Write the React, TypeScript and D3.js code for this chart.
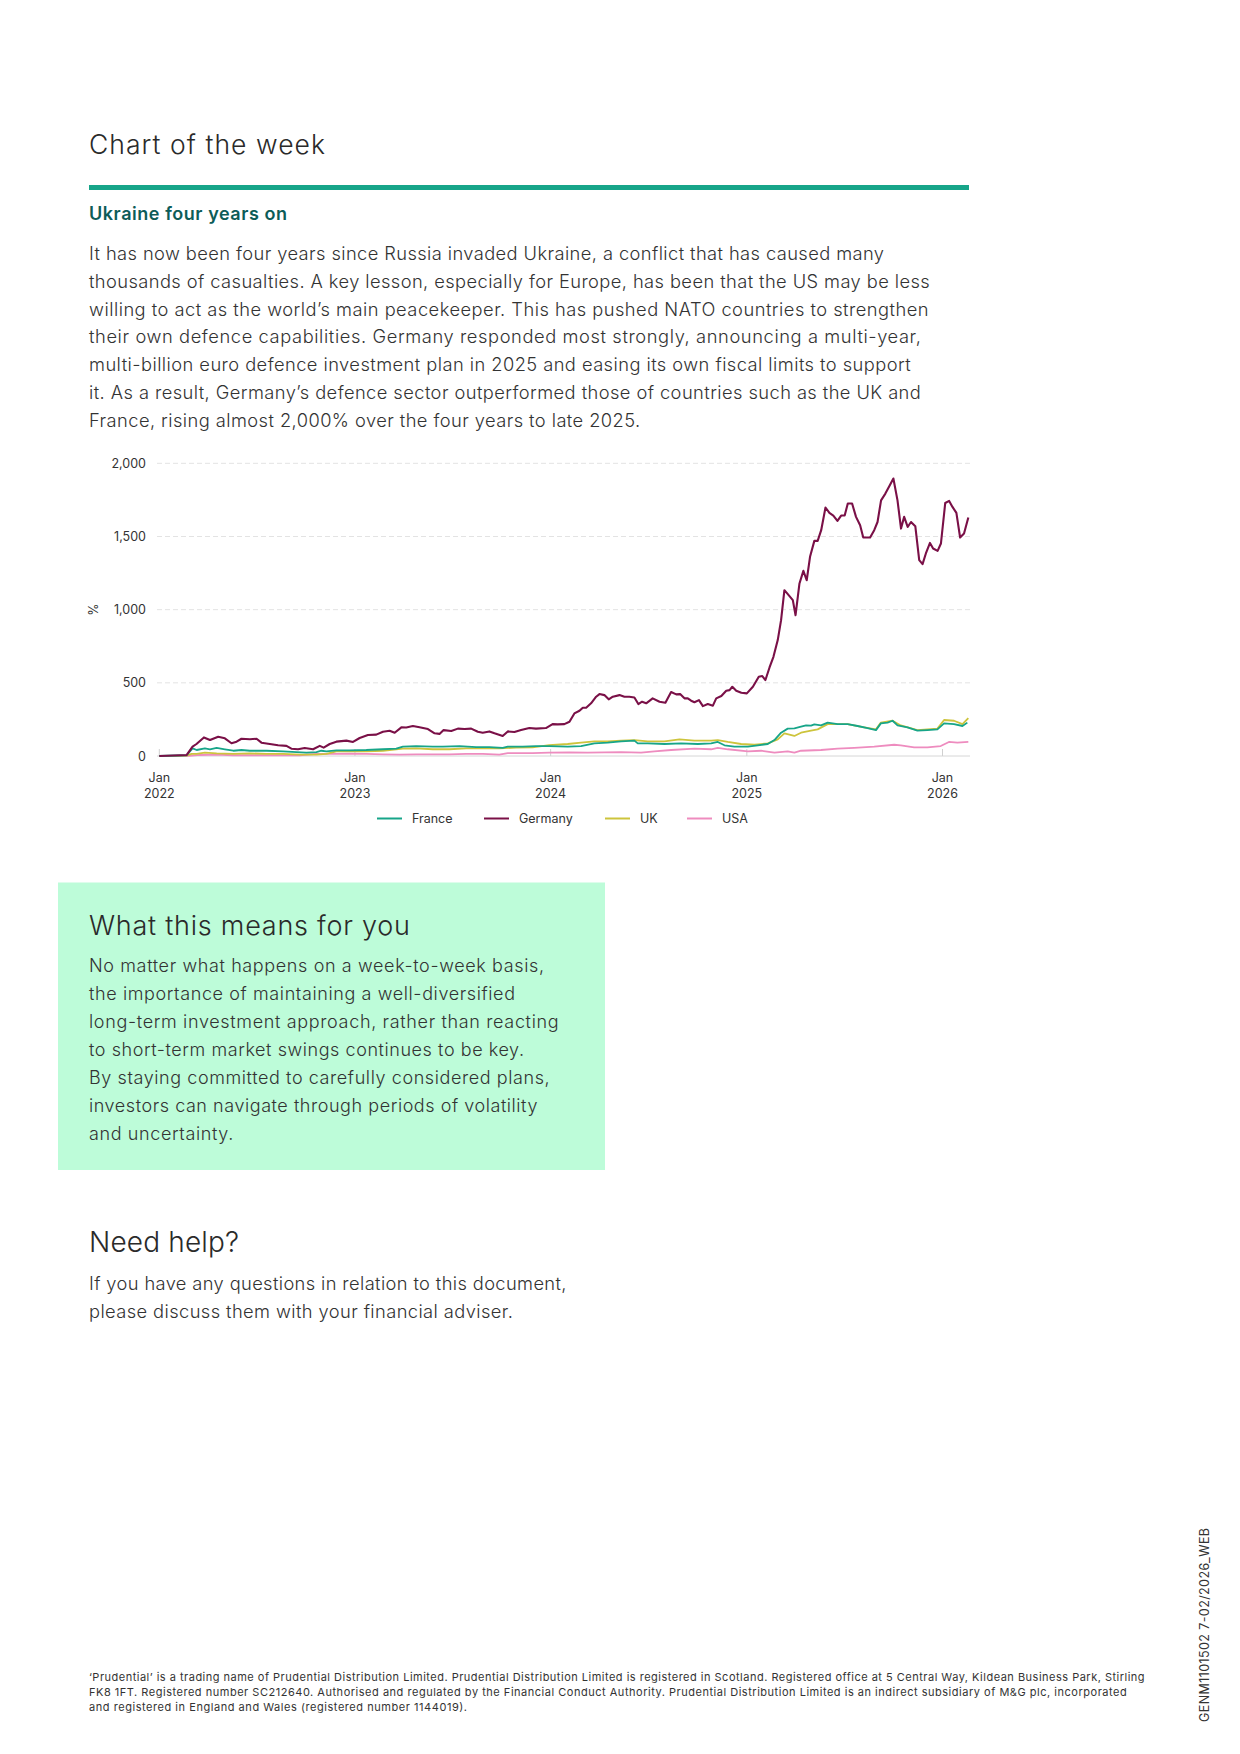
import React from "react";
import * as d3 from "d3";

// ---------- DATA (decimal year, % change) ----------
const germany: [number, number][] = [
  [2022.0, 0], [2022.14, 7], [2022.17, 64], [2022.19, 82], [2022.228, 127], [2022.259, 109], [2022.301, 132],
  [2022.335, 121], [2022.369, 87], [2022.395, 98], [2022.42, 118], [2022.463, 114], [2022.497, 118], [2022.522, 91],
  [2022.565, 82], [2022.607, 73], [2022.65, 69], [2022.675, 50], [2022.709, 46], [2022.743, 55], [2022.786, 46],
  [2022.82, 69], [2022.84, 57], [2022.871, 82], [2022.905, 98], [2022.956, 105], [2022.99, 96], [2023.024, 123],
  [2023.066, 143], [2023.109, 146], [2023.143, 166], [2023.177, 173], [2023.203, 159], [2023.237, 196], [2023.262, 195],
  [2023.296, 205], [2023.33, 196], [2023.373, 184], [2023.407, 155], [2023.432, 151], [2023.453, 177], [2023.492, 171],
  [2023.526, 187], [2023.56, 184], [2023.594, 187], [2023.628, 166], [2023.653, 159], [2023.687, 168], [2023.713, 155],
  [2023.755, 137], [2023.781, 168], [2023.815, 164], [2023.849, 177], [2023.891, 191], [2023.925, 187], [2023.976, 191],
  [2024.01, 218], [2024.036, 216], [2024.07, 218], [2024.096, 234], [2024.121, 291], [2024.147, 309], [2024.164, 330],
  [2024.181, 330], [2024.206, 360], [2024.232, 405], [2024.249, 423], [2024.274, 416], [2024.296, 387], [2024.317, 405],
  [2024.351, 416], [2024.376, 405], [2024.401, 405], [2024.427, 400], [2024.447, 355], [2024.466, 371], [2024.487, 360],
  [2024.52, 394], [2024.555, 371], [2024.585, 364], [2024.614, 437], [2024.64, 421], [2024.66, 423], [2024.682, 394],
  [2024.699, 394], [2024.716, 378], [2024.733, 367], [2024.756, 382], [2024.776, 341], [2024.801, 355], [2024.827, 344],
  [2024.844, 394], [2024.87, 410], [2024.895, 446], [2024.912, 450], [2024.926, 473], [2024.946, 446], [2024.972, 432],
  [2025.0, 428], [2025.031, 473], [2025.061, 541], [2025.079, 546], [2025.095, 519], [2025.116, 605], [2025.136, 678],
  [2025.158, 792], [2025.175, 928], [2025.192, 1133], [2025.218, 1092], [2025.235, 1065], [2025.249, 962], [2025.269, 1179],
  [2025.289, 1265], [2025.306, 1201], [2025.323, 1361], [2025.345, 1470], [2025.362, 1470], [2025.38, 1543], [2025.402, 1698],
  [2025.422, 1661], [2025.442, 1643], [2025.463, 1606], [2025.482, 1643], [2025.5, 1643], [2025.516, 1725], [2025.538, 1725],
  [2025.558, 1634], [2025.579, 1577], [2025.595, 1493], [2025.63, 1493], [2025.651, 1543], [2025.668, 1599], [2025.686, 1747],
  [2025.708, 1793], [2025.728, 1843], [2025.749, 1896], [2025.77, 1747], [2025.788, 1554], [2025.804, 1634], [2025.822, 1565],
  [2025.839, 1599], [2025.861, 1570], [2025.881, 1338], [2025.898, 1311], [2025.915, 1384], [2025.936, 1456], [2025.952, 1418],
  [2025.975, 1402], [2025.992, 1452], [2026.014, 1729], [2026.034, 1743], [2026.051, 1702], [2026.071, 1661], [2026.09, 1493],
  [2026.11, 1520], [2026.132, 1629],
];

const france: [number, number][] = [
  [2022.0, 0], [2022.14, 5], [2022.17, 52], [2022.191, 41], [2022.233, 52], [2022.259, 46], [2022.293, 55], [2022.335, 46],
  [2022.378, 36], [2022.42, 41], [2022.463, 36], [2022.548, 36], [2022.633, 32], [2022.701, 27], [2022.752, 23], [2022.803, 27],
  [2022.828, 36], [2022.854, 32], [2022.905, 39], [2022.973, 39], [2023.058, 41], [2023.143, 46], [2023.211, 50], [2023.245, 64],
  [2023.313, 68], [2023.398, 64], [2023.449, 64], [2023.534, 68], [2023.619, 61], [2023.687, 61], [2023.755, 55], [2023.781, 64],
  [2023.857, 64], [2023.925, 68], [2023.993, 68], [2024.087, 64], [2024.155, 68], [2024.223, 86], [2024.291, 91], [2024.359, 100],
  [2024.427, 105], [2024.444, 86], [2024.495, 86], [2024.58, 82], [2024.665, 86], [2024.75, 82], [2024.818, 86], [2024.852, 96],
  [2024.886, 73], [2024.937, 64], [2025.005, 64], [2025.056, 73], [2025.107, 82], [2025.141, 109], [2025.175, 159], [2025.209, 187],
  [2025.243, 189], [2025.277, 200], [2025.303, 209], [2025.328, 207], [2025.345, 216], [2025.379, 209], [2025.413, 228], [2025.464, 218],
  [2025.515, 218], [2025.566, 205], [2025.617, 191], [2025.66, 177], [2025.685, 223], [2025.719, 228], [2025.745, 241], [2025.77, 209],
  [2025.821, 196], [2025.872, 173], [2025.923, 177], [2025.974, 182], [2026.008, 223], [2026.059, 218], [2026.102, 205], [2026.127, 228],
];

const uk: [number, number][] = [
  [2022.0, 0], [2022.14, 2], [2022.165, 14], [2022.191, 14], [2022.233, 23], [2022.293, 18], [2022.378, 14], [2022.463, 18],
  [2022.548, 14], [2022.633, 14], [2022.718, 9], [2022.803, 9], [2022.854, 14], [2022.905, 32], [2022.973, 32], [2023.058, 32],
  [2023.143, 36], [2023.245, 50], [2023.313, 52], [2023.398, 46], [2023.483, 46], [2023.568, 52], [2023.653, 52], [2023.738, 52],
  [2023.823, 57], [2023.908, 59], [2023.993, 75], [2024.087, 82], [2024.155, 91], [2024.223, 100], [2024.291, 100], [2024.359, 105],
  [2024.427, 109], [2024.495, 100], [2024.58, 100], [2024.657, 114], [2024.733, 105], [2024.818, 105], [2024.852, 109], [2024.903, 96],
  [2024.971, 82], [2025.039, 77], [2025.107, 86], [2025.158, 114], [2025.192, 155], [2025.243, 137], [2025.277, 159], [2025.328, 173],
  [2025.362, 182], [2025.413, 218], [2025.515, 218], [2025.6, 196], [2025.66, 182], [2025.685, 228], [2025.745, 241], [2025.787, 209],
  [2025.872, 177], [2025.974, 187], [2026.008, 246], [2026.059, 241], [2026.102, 218], [2026.132, 259],
];

const usa: [number, number][] = [
  [2022.0, 0], [2022.14, 0], [2022.208, 7], [2022.293, 9], [2022.378, 5], [2022.463, 5], [2022.548, 5], [2022.633, 5],
  [2022.718, 5], [2022.803, 14], [2022.888, 14], [2022.973, 16], [2023.058, 14], [2023.143, 11], [2023.228, 9], [2023.313, 11],
  [2023.398, 11], [2023.483, 11], [2023.568, 14], [2023.653, 14], [2023.738, 9], [2023.781, 20], [2023.823, 20], [2023.908, 20],
  [2023.993, 23], [2024.095, 25], [2024.189, 23], [2024.359, 27], [2024.461, 23], [2024.529, 32], [2024.614, 41], [2024.733, 50],
  [2024.818, 46], [2024.852, 55], [2024.903, 46], [2025.005, 32], [2025.073, 36], [2025.141, 23], [2025.209, 32], [2025.243, 23],
  [2025.277, 36], [2025.379, 41], [2025.464, 50], [2025.549, 55], [2025.651, 64], [2025.753, 77], [2025.787, 73], [2025.855, 59],
  [2025.923, 59], [2025.991, 68], [2026.033, 96], [2026.076, 91], [2026.132, 96],
];

const yTicks = [0, 500, 1000, 1500, 2000];
const xTickYears = [2022, 2023, 2024, 2025, 2026];
const legendNames = ["France", "Germany", "UK", "USA"];

const paragraph = [
  "It has now been four years since Russia invaded Ukraine, a conflict that has caused many",
  "thousands of casualties. A key lesson, especially for Europe, has been that the US may be less",
  "willing to act as the world\u2019s main peacekeeper. This has pushed NATO countries to strengthen",
  "their own defence capabilities. Germany responded most strongly, announcing a multi-year,",
  "multi-billion euro defence investment plan in 2025 and easing its own fiscal limits to support",
  "it. As a result, Germany\u2019s defence sector outperformed those of countries such as the UK and",
  "France, rising almost 2,000% over the four years to late 2025.",
];
const boxLines = [
  "No matter what happens on a week-to-week basis,",
  "the importance of maintaining a well-diversified",
  "long-term investment approach, rather than reacting",
  "to short-term market swings continues to be key.",
  "By staying committed to carefully considered plans,",
  "investors can navigate through periods of volatility",
  "and uncertainty.",
];
const helpLines = [
  "If you have any questions in relation to this document,",
  "please discuss them with your financial adviser.",
];
const footerLines = [
  "\u2018Prudential\u2019 is a trading name of Prudential Distribution Limited. Prudential Distribution Limited is registered in Scotland. Registered office at 5 Central Way, Kildean Business Park, Stirling",
  "FK8 1FT. Registered number SC212640. Authorised and regulated by the Financial Conduct Authority. Prudential Distribution Limited is an indirect subsidiary of M&G plc, incorporated",
  "and registered in England and Wales (registered number 1144019).",
];

// ---------- LAYOUT (line widths measured from the page) ----------
const paragraphWidths = [795, 840.7, 839.6, 831.8, 821.7, 831.8, 551.2];
const boxWidths = [455, 426, 469.6, 435, 460.6, 448.4, 144.3];
const helpWidths = [477.5, 423.8];
const footerWidths = [1055.6, 1037.7, 378];

// ---------- STYLE ----------
const FONT = "Inter, 'Noto Sans', sans-serif";
const colors: Record<string, string> = {
  France: "#17a589",
  Germany: "#7a1047",
  UK: "#cdc43c",
  USA: "#ee8cbf",
};

function toDate(t: number): Date {
  const y = Math.floor(t);
  const s = new Date(y, 0, 1).getTime();
  const e = new Date(y + 1, 0, 1).getTime();
  return new Date(s + (t - y) * (e - s));
}

export default function App() {
  const x = d3.scaleTime().domain([new Date(2022, 0, 1), new Date(2026, 0, 1)]).range([159.3, 942.5]);
  const y = d3.scaleLinear().domain([0, 2000]).range([756, 463.3]);
  const line = d3
    .line<[number, number]>()
    .x((d) => x(toDate(d[0])))
    .y((d) => y(d[1]))
    .curve(d3.curveLinear);

  const seriesMap: Record<string, [number, number][]> = { France: france, Germany: germany, UK: uk, USA: usa };
  const drawOrder = ["USA", "UK", "France", "Germany"];
  const legendX = [377, 484, 605, 687];

  const textColor = "#333333";

  return (
    <svg
      width={1240}
      height={1754}
      style={{ position: "absolute", left: 0, top: 0, background: "#ffffff" }}
      fontFamily={FONT}
    >
      <rect x={0} y={0} width={1240} height={1754} fill="#ffffff" />

      {/* Title block */}
      <text x={89} y={154} fontSize={26.5} fontWeight={300} fill="#2a2a2a" textLength={236} lengthAdjust="spacing">
        Chart of the week
      </text>
      <rect x={89} y={185} width={880} height={5} fill="#17a589" />
      <text x={89} y={219.5} fontSize={18} fontWeight={600} fill="#0d5c58" textLength={198} lengthAdjust="spacing">
        Ukraine four years on
      </text>
      {paragraph.map((l, i) => (
        <text
          key={i}
          x={89}
          y={260 + i * 27.8}
          fontSize={18.3}
          fontWeight={300}
          fill={textColor}
          textLength={paragraphWidths[i]}
          lengthAdjust="spacing"
        >
          {l}
        </text>
      ))}

      {/* Chart */}
      <g>
        {yTicks.map((t) => (
          <g key={t}>
            {t > 0 && (
              <line x1={157} x2={970} y1={y(t)} y2={y(t)} stroke="#e3e3e3" strokeWidth={1} strokeDasharray="5,3" />
            )}
            <text x={146} y={y(t) + 4.5} fontSize={12.5} textAnchor="end" fill="#333">
              {d3.format(",")(t)}
            </text>
          </g>
        ))}
        <line x1={157} x2={970} y1={y(0)} y2={y(0)} stroke="#d6d6d6" strokeWidth={1} />
        {xTickYears.map((yr) => {
          const px = x(new Date(yr, 0, 1));
          return (
            <g key={yr}>
              <line x1={px} x2={px} y1={y(0) - 7} y2={y(0)} stroke="#d0d0d0" strokeWidth={1} />
              <text x={px} y={782} fontSize={12.5} textAnchor="middle" fill="#333">
                Jan
              </text>
              <text x={px} y={798} fontSize={12.5} textAnchor="middle" fill="#333">
                {yr}
              </text>
            </g>
          );
        })}
        <text
          transform={`translate(98,${y(1000)}) rotate(-90)`}
          fontSize={12.5}
          textAnchor="middle"
          fill="#333"
        >
          %
        </text>
        {drawOrder.map((n) => (
          <path
            key={n}
            d={line(seriesMap[n]) || ""}
            fill="none"
            stroke={colors[n]}
            strokeWidth={n === "Germany" ? 2.1 : 1.8}
            strokeLinejoin="round"
          />
        ))}
        {legendNames.map((n, i) => (
          <g key={n}>
            <line x1={legendX[i]} x2={legendX[i] + 25} y1={818.5} y2={818.5} stroke={colors[n]} strokeWidth={2} />
            <text x={legendX[i] + 35} y={823} fontSize={12.5} fill="#333">
              {n}
            </text>
          </g>
        ))}
      </g>

      {/* Box */}
      <rect x={58} y={882.5} width={547} height={287.5} fill="#bdfcd9" />
      <text x={89} y={935} fontSize={27} fontWeight={300} fill="#2a2a2a" textLength={321} lengthAdjust="spacing">
        What this means for you
      </text>
      {boxLines.map((l, i) => (
        <text
          key={i}
          x={89}
          y={971.7 + i * 28}
          fontSize={18}
          fontWeight={300}
          fill={textColor}
          textLength={boxWidths[i]}
          lengthAdjust="spacing"
        >
          {l}
        </text>
      ))}

      {/* Need help */}
      <text x={89} y={1252.3} fontSize={28} fontWeight={300} fill="#2a2a2a" textLength={150} lengthAdjust="spacing">
        Need help?
      </text>
      {helpLines.map((l, i) => (
        <text
          key={i}
          x={89}
          y={1290 + i * 28}
          fontSize={18.3}
          fontWeight={300}
          fill={textColor}
          textLength={helpWidths[i]}
          lengthAdjust="spacing"
        >
          {l}
        </text>
      ))}

      {/* Footer */}
      {footerLines.map((l, i) => (
        <text
          key={i}
          x={89}
          y={1680.7 + i * 15}
          fontSize={11}
          fill="#333"
          textLength={footerWidths[i]}
          lengthAdjust="spacing"
        >
          {l}
        </text>
      ))}
      <text
        transform="translate(1209,1722) rotate(-90)"
        fontSize={12.5}
        fill="#333"
        textLength={194}
        lengthAdjust="spacing"
      >
        GENM1101502 7-02/2026_WEB
      </text>
    </svg>
  );
}
